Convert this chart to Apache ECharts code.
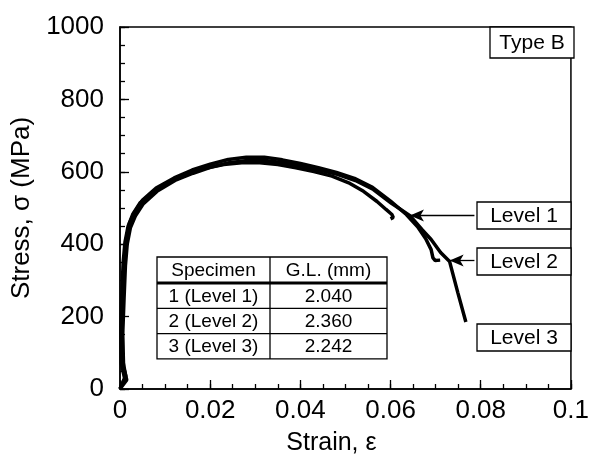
<!DOCTYPE html>
<html>
<head>
<meta charset="utf-8">
<script src="https://cdn.jsdelivr.net/npm/echarts@6/dist/echarts.min.js"></script>
<style>
  html, body { margin: 0; padding: 0; background: #fff; }
  #main { width: 592px; height: 461px; }
</style>
</head>
<body>
<div id="main"></div>
<script>
// curve data (strain, stress in MPa)
var strain1 = [0, 0.0010, 0.0003, 0.0002, 0.0004, 0.0007, 0.0011, 0.0018, 0.0028, 0.0045, 0.0075, 0.011, 0.015, 0.019, 0.023, 0.027, 0.031, 0.035, 0.039, 0.043, 0.047, 0.051, 0.054, 0.057, 0.059, 0.0603, 0.0606, 0.0600];
var stress1 = [0, 30, 70, 160, 260, 350, 405, 450, 482, 515, 545, 573, 594, 610, 620, 625, 625, 620, 611, 601, 588, 568, 546, 518, 496, 482, 474, 470];

var strain2 = [0, 0.0013, 0.0006, 0.0005, 0.0007, 0.0010, 0.0014, 0.0021, 0.0032, 0.005, 0.008, 0.012, 0.016, 0.020, 0.024, 0.028, 0.032, 0.036, 0.040, 0.044, 0.048, 0.052, 0.056, 0.060, 0.0635, 0.066, 0.0678, 0.0690, 0.0694, 0.0699, 0.0710];
var stress2 = [0, 35, 80, 170, 270, 360, 415, 458, 488, 522, 555, 583, 605, 621, 634, 640, 640, 633, 623, 611, 598, 582, 557, 519, 482, 448, 415, 385, 362, 355, 356];

var strain3 = [0, 0.0015, 0.0008, 0.0006, 0.0009, 0.0012, 0.0016, 0.0023, 0.0034, 0.0052, 0.0082, 0.0122, 0.0162, 0.0202, 0.0242, 0.0282, 0.0322, 0.0362, 0.0402, 0.0442, 0.0482, 0.0522, 0.0562, 0.0602, 0.0643, 0.067, 0.069, 0.0711, 0.0731, 0.0749, 0.0767];
var stress3 = [0, 25, 60, 150, 250, 340, 400, 445, 478, 512, 546, 576, 596, 613, 625, 631, 631, 625, 616, 605, 593, 576, 551, 513, 479, 440, 413, 377, 352, 267, 185];

// arrows pointing at the curves: [strain, stress]
var arrowTip1 = [0.0643, 479];
var arrowTip2 = [0.0731, 355];
var boxLeftStrain = 0.0786;

// axis ticks
var xMajor = 0.02, xMinor = 0.005;
var yMajor = 200, yMinor = 50;

// table contents
var tableHead = ['Specimen', 'G.L. (mm)'];
var specimens = ['1 (Level 1)', '2 (Level 2)', '3 (Level 3)'];
var gaugeLengths = ['2.040', '2.360', '2.242'];
var levelNames = ['Level 1', 'Level 2', 'Level 3'];

var FONT = 'Liberation Sans, Arial, Helvetica, sans-serif';

function pairs(xs, ys) {
    return xs.map(function (x, i) { return [x, ys[i]]; });
}

var myChart = echarts.init(document.getElementById('main'));

// table drawn as graphic elements
var tX = 157, tY = 257, c1 = 113, c2 = 117, headH = 26, rowH = 25.3;
var tableEls = [
    { type: 'rect', shape: { x: tX, y: tY, width: c1 + c2, height: headH + rowH * 3 },
      style: { fill: '#fff', stroke: '#000', lineWidth: 1.3 } },
    { type: 'line', shape: { x1: tX + c1, y1: tY, x2: tX + c1, y2: tY + headH + rowH * 3 },
      style: { stroke: '#000', lineWidth: 1.3 } },
    { type: 'line', shape: { x1: tX, y1: tY + headH, x2: tX + c1 + c2, y2: tY + headH },
      style: { stroke: '#000', lineWidth: 3 } }
];
for (var r = 1; r < 3; r++) {
    tableEls.push({ type: 'line', shape: { x1: tX, y1: tY + headH + rowH * r, x2: tX + c1 + c2, y2: tY + headH + rowH * r },
        style: { stroke: '#000', lineWidth: 1.3 } });
}
tableHead.forEach(function (t, i) {
    tableEls.push({ type: 'text', x: i === 0 ? tX + c1 / 2 : tX + c1 + c2 / 2, y: tY + headH / 2 + 1,
        style: { text: t, font: '19px ' + FONT, fill: '#000', align: 'center', verticalAlign: 'middle' } });
});
specimens.forEach(function (t, i) {
    var cy = tY + headH + rowH * i + rowH / 2 + 1;
    tableEls.push({ type: 'text', x: tX + c1 / 2, y: cy,
        style: { text: t, font: '19px ' + FONT, fill: '#000', align: 'center', verticalAlign: 'middle' } });
    tableEls.push({ type: 'text', x: tX + c1 + c2 / 2, y: cy,
        style: { text: gaugeLengths[i], font: '19px ' + FONT, fill: '#000', align: 'center', verticalAlign: 'middle' } });
});

// labelled boxes
function box(x, y, w, h, text) {
    return [
        { type: 'rect', shape: { x: x, y: y, width: w, height: h },
          style: { fill: '#fff', stroke: '#000', lineWidth: 1.3 } },
        { type: 'text', x: x + w / 2, y: y + h / 2 + 1,
          style: { text: text, font: '21px ' + FONT, fill: '#000', align: 'center', verticalAlign: 'middle' } }
    ];
}
var boxEls = [].concat(
    box(490, 27, 84, 31, 'Type B'),
    box(477, 202, 94, 27, levelNames[0]),
    box(477, 248, 94, 27, levelNames[1]),
    box(477, 324, 94, 27, levelNames[2])
);

var lineStyle = { color: '#000', width: 3.5 };
var tickStyle = { color: '#000', width: 1.3 };

function minorAxis(isX) {
    return {
        type: 'value', min: 0, max: isX ? 0.1 : 1000, interval: isX ? xMinor : yMinor,
        position: isX ? 'bottom' : 'left',
        axisLine: { show: false },
        axisTick: { show: true, inside: true, length: 5, lineStyle: tickStyle },
        axisLabel: { show: false },
        splitLine: { show: false }
    };
}

var option = {
    animation: false,
    backgroundColor: '#fff',
    grid: {
        left: 120, top: 27, right: 18, bottom: 71,
        show: true, borderColor: '#000', borderWidth: 1.5
    },
    xAxis: [{
        type: 'value', min: 0, max: 0.1, interval: xMajor,
        name: 'Strain, ε', nameLocation: 'middle', nameGap: 42,
        nameTextStyle: { fontSize: 25, fontFamily: FONT, color: '#000', verticalAlign: 'top', padding: [0, 28, 0, 0] },
        axisLine: { lineStyle: { color: '#000', width: 1.5 } },
        axisTick: { inside: true, length: 9, lineStyle: tickStyle },
        splitLine: { show: false },
        axisLabel: { fontSize: 26, fontFamily: FONT, color: '#000', margin: 9,
            formatter: function (v) { return String(+v.toFixed(4)); } }
    }, minorAxis(true)],
    yAxis: [{
        type: 'value', min: 0, max: 1000, interval: yMajor,
        name: 'Stress, σ (MPa)', nameLocation: 'middle', nameGap: 78,
        nameTextStyle: { fontSize: 26, fontFamily: FONT, color: '#000' },
        axisLine: { lineStyle: { color: '#000', width: 1.5 } },
        axisTick: { inside: true, length: 9, lineStyle: tickStyle },
        splitLine: { show: false },
        axisLabel: { fontSize: 26, fontFamily: FONT, color: '#000', margin: 16,
            formatter: function (v) { return String(v); } }
    }, minorAxis(false)],
    series: [
        { type: 'line', data: pairs(strain1, stress1), showSymbol: false, lineStyle: lineStyle },
        { type: 'line', data: pairs(strain2, stress2), showSymbol: false, lineStyle: lineStyle },
        {
            type: 'line', data: pairs(strain3, stress3), showSymbol: false, lineStyle: lineStyle,
            markLine: {
                silent: true,
                symbol: ['none', 'arrow'],
                symbolSize: [9, 14],
                label: { show: false },
                lineStyle: { color: '#000', width: 1.3, type: 'solid' },
                data: [
                    [{ coord: [boxLeftStrain, arrowTip1[1]] }, { coord: arrowTip1 }],
                    [{ coord: [boxLeftStrain, arrowTip2[1]] }, { coord: arrowTip2 }]
                ]
            }
        }
    ],
    graphic: tableEls.concat(boxEls)
};

myChart.setOption(option);
</script>
</body>
</html>
